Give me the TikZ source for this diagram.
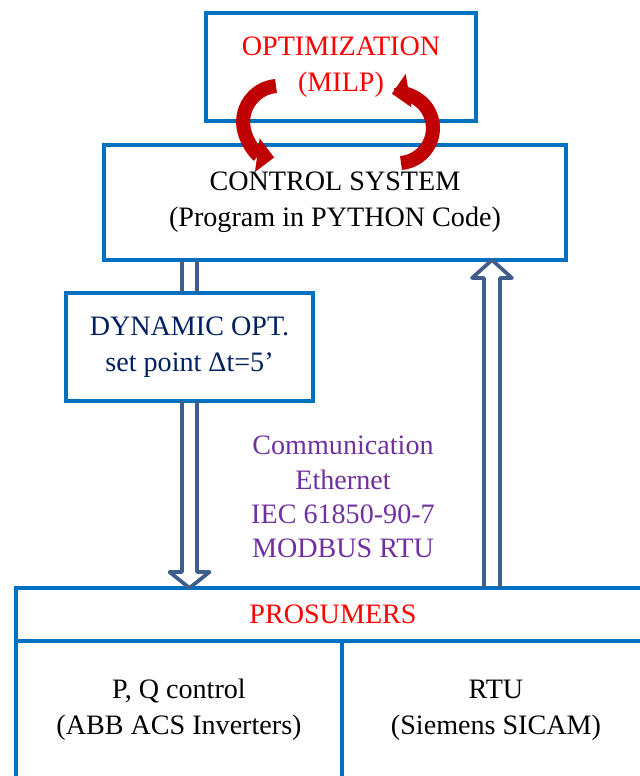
\documentclass[tikz,border=0pt]{standalone}
\usepackage{fontspec}
\setmainfont{Liberation Serif}
\usepackage{tikz}
\usetikzlibrary{arrows.meta,positioning,calc}
\definecolor{boxblue}{RGB}{0,112,192}
\definecolor{pipeblue}{RGB}{63,94,140}
\definecolor{loopred}{RGB}{192,0,0}
\definecolor{navytext}{RGB}{0,32,96}
\definecolor{commpurple}{RGB}{112,48,160}
\tikzstyle{block} = [rectangle, draw=boxblue, line width=2.2pt, fill=white, align=center, inner sep=0pt, outer sep=0pt, font=\fontsize{16}{20.5}\selectfont]
\tikzstyle{pipearrow} = [draw=pipeblue, line width=2.1pt, line join=round]
\tikzstyle{cyclearrow} = [draw=loopred, line width=8pt, -{Triangle[length=0.34cm,width=0.66cm]}, color=loopred]

\begin{document}
\begin{tikzpicture}
\useasboundingbox (0,0) rectangle (12.8,15.52);
\clip (0,0) rectangle (12.8,15.52);

% Upper boxes
\node (opt) [block, minimum width=5.4cm, minimum height=2.16cm, text=red] at (6.82,14.18) {OPTIMIZATION\\(MILP)};
\node (ctrl) [block, minimum width=9.24cm, minimum height=2.30cm, below=0.48cm of opt, xshift=-0.12cm] {CONTROL SYSTEM\\(Program in PYTHON Code)};
\node (dyn) [block, minimum width=4.94cm, minimum height=2.16cm, text=navytext, below right=0.66cm and -0.76cm of ctrl.south west] {DYNAMIC OPT.\\set point Δt=5’};

% Communication label
\node (comm) [font=\fontsize{16}{19.5}\selectfont, align=center, text=commpurple] at (6.86,5.58) {Communication\\Ethernet\\IEC 61850-90-7\\MODBUS RTU};

% Prosumers block
\node (hdr) [block, minimum width=12.68cm, minimum height=1.06cm, text=red, anchor=north west] at (0.32,3.76) {PROSUMERS};
\node (pq) [block, minimum width=6.52cm, minimum height=2.76cm, below right=0pt and 0pt of hdr.south west] {P, Q control\\(ABB ACS Inverters)};
\node (rtu) [block, minimum width=6.16cm, minimum height=2.76cm, right=0pt of pq] {RTU\\(Siemens SICAM)};

% Set point channel (down)
\coordinate (dtop) at (dyn.north |- ctrl.south);
\coordinate (dtip) at (dyn.south |- hdr.north);
\draw[pipearrow] ([xshift=-0.15cm]dtop) -- ([xshift=-0.15cm]dyn.north)
                 ([xshift=0.15cm]dtop) -- ([xshift=0.15cm]dyn.north);
\draw[pipearrow] ([xshift=-0.15cm]dyn.south) -- ([shift={(-0.15cm,0.32cm)}]dtip) -- ([shift={(-0.4cm,0.32cm)}]dtip) -- (dtip) -- ([shift={(0.4cm,0.32cm)}]dtip) -- ([shift={(0.15cm,0.32cm)}]dtip) -- ([xshift=0.15cm]dyn.south);

% Measurement channel (up)
\path (rtu.north |- hdr.north) ++(-0.08,0) coordinate (ubase);
\path (rtu.north |- ctrl.south) ++(-0.08,0) coordinate (utip);
\draw[pipearrow] ([xshift=-0.16cm]ubase) -- ([shift={(-0.16cm,-0.36cm)}]utip) -- ([shift={(-0.4cm,-0.36cm)}]utip) -- (utip) -- ([shift={(0.4cm,-0.36cm)}]utip) -- ([shift={(0.16cm,-0.36cm)}]utip) -- ([xshift=0.16cm]ubase);

% Loop arrows between optimization and control
\coordinate (loopL) at ([shift={(-1.30,0.70)}]opt.south);
\coordinate (loopR) at ([shift={(1.32,-0.36)}]ctrl.north);
\draw[cyclearrow] (loopL) arc[start angle=95, end angle=262, radius=0.72cm];
\draw[cyclearrow] (loopR) arc[start angle=-85, end angle=100, radius=0.70cm];
\end{tikzpicture}
\end{document}
